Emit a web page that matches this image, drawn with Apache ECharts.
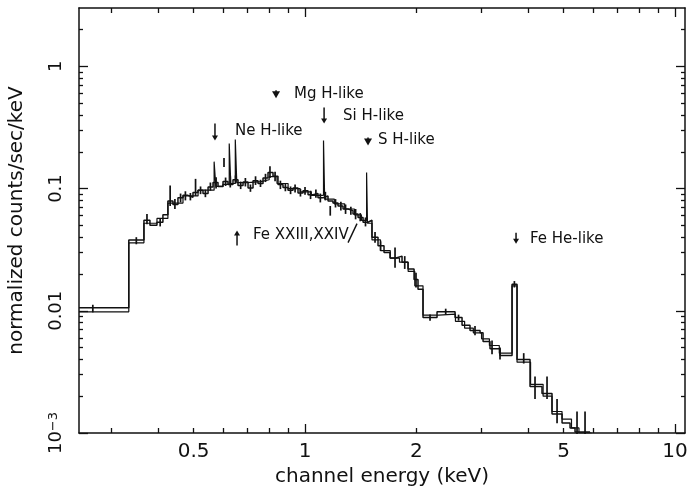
<!DOCTYPE html>
<html><head><meta charset="utf-8">
<script src="https://cdn.jsdelivr.net/npm/echarts@6/dist/echarts.min.js"></script>
<style>html,body{margin:0;padding:0;background:#fff}#c{width:687px;height:490px}</style>
</head><body><div id="c"></div>
<script>
// ---- data ----
const dataEdges = [0.245, 0.334, 0.367, 0.381, 0.398, 0.413, 0.426, 0.4396, 0.4535, 0.468,
  0.4828, 0.498, 0.5138, 0.530, 0.547, 0.5641, 0.5819, 0.6003, 0.6192, 0.6388,
  0.659, 0.680, 0.7015, 0.7236, 0.7464, 0.770, 0.7943, 0.8194, 0.8452, 0.872,
  0.8995, 0.928, 0.9573, 0.9876, 1.019, 1.051, 1.084, 1.118, 1.154, 1.190,
  1.228, 1.267, 1.307, 1.348, 1.391, 1.435, 1.480, 1.517, 1.575, 1.635,
  1.697, 1.762, 1.829, 1.898, 1.971, 2.020, 2.084, 2.274, 2.544, 2.657,
  2.792, 2.972, 3.028, 3.162, 3.365, 3.627, 3.741, 4.056, 4.370, 4.651,
  4.951, 5.203, 5.367, 5.893];
const dataValues = [0.0106, 0.038, 0.055, 0.050, 0.053, 0.061, 0.079, 0.074, 0.084, 0.088,
  0.085, 0.093, 0.097, 0.091, 0.103, 0.112, 0.104, 0.114, 0.108, 0.118,
  0.106, 0.113, 0.101, 0.116, 0.110, 0.122, 0.135, 0.126, 0.108, 0.102,
  0.097, 0.101, 0.092, 0.096, 0.089, 0.091, 0.084, 0.087, 0.079, 0.076,
  0.072, 0.068, 0.066, 0.062, 0.058, 0.053, 0.055, 0.040, 0.034, 0.030,
  0.027, 0.028, 0.025, 0.022, 0.018, 0.015, 0.0088, 0.0098, 0.0088, 0.0076,
  0.0069, 0.0066, 0.0056, 0.0049, 0.0043, 0.0165, 0.0040, 0.0024, 0.0021, 0.00143,
  0.00121, 0.0011, 0.00102];
const modelEdges = [0.245, 0.334, 0.367, 0.398, 0.426, 0.468, 0.514, 0.568, 0.574, 0.600,
  0.624, 0.630, 0.648, 0.654, 0.70, 0.76, 0.80, 0.84, 0.90, 0.97,
  1.04, 1.122, 1.130, 1.20, 1.28, 1.36, 1.42, 1.467, 1.475, 1.517,
  1.60, 1.70, 1.80, 1.90, 1.98, 2.084, 2.30, 2.55, 2.70, 2.85,
  3.00, 3.15, 3.35, 3.627, 3.741, 4.07, 4.40, 4.65, 4.95, 5.25,
  5.50, 5.95];
const modelValues = [0.0098, 0.036, 0.052, 0.057, 0.076, 0.087, 0.097, 0.166, 0.104, 0.108,
  0.234, 0.110, 0.252, 0.112, 0.114, 0.118, 0.125, 0.110, 0.100, 0.094,
  0.088, 0.247, 0.082, 0.075, 0.068, 0.061, 0.055, 0.135, 0.052, 0.038,
  0.031, 0.027, 0.025, 0.021, 0.016, 0.0092, 0.0094, 0.0082, 0.0072, 0.0066,
  0.0059, 0.0052, 0.0045, 0.0160, 0.0038, 0.0025, 0.0020, 0.0015, 0.0013, 0.0011,
  0.0010];
const errE  = [0.267, 0.350, 0.374, 0.406, 0.432, 0.461, 0.490, 0.506, 0.538, 0.555,
  0.604, 0.610, 0.649, 0.690, 0.735, 0.782, 0.804, 0.858, 0.914, 0.972,
  1.035, 1.10, 1.17, 1.209, 1.287, 1.370, 1.457, 1.546, 1.60, 1.751,
  1.86, 1.995, 2.177, 2.40, 2.60, 2.88, 3.202, 3.365, 3.68, 3.90,
  4.184, 4.509, 4.799, 5.434, 5.712,
  0.445, 0.475, 0.522, 0.575, 0.628, 0.670, 0.712, 0.758, 0.830, 0.885,
  0.940, 1.000, 1.070, 1.135, 1.250, 1.330, 1.410];
const errLo = [0.0097, 0.035, 0.051, 0.049, 0.072, 0.077, 0.080, 0.087, 0.085, 0.096,
  0.150, 0.105, 0.110, 0.104, 0.107, 0.113, 0.122, 0.099, 0.090, 0.086,
  0.082, 0.077, 0.060, 0.070, 0.062, 0.056, 0.049, 0.036, 0.031, 0.0225,
  0.022, 0.0155, 0.0083, 0.0093, 0.0083, 0.0063, 0.0044, 0.0040, 0.0155, 0.0037,
  0.0019, 0.0019, 0.0012, 0.00098, 0.00098,
  0.068, 0.080, 0.090, 0.100, 0.102, 0.099, 0.094, 0.103, 0.115, 0.095,
  0.093, 0.089, 0.084, 0.080, 0.066, 0.061, 0.054];
const errHi = [0.0112, 0.040, 0.062, 0.057, 0.106, 0.091, 0.092, 0.120, 0.098, 0.112,
  0.178, 0.123, 0.128, 0.122, 0.126, 0.132, 0.152, 0.116, 0.104, 0.099,
  0.096, 0.091, 0.072, 0.082, 0.074, 0.068, 0.058, 0.044, 0.037, 0.033,
  0.028, 0.0205, 0.0093, 0.0104, 0.0093, 0.0075, 0.0057, 0.0050, 0.0175, 0.0045,
  0.0029, 0.0029, 0.0019, 0.0015, 0.0015,
  0.082, 0.095, 0.104, 0.124, 0.126, 0.114, 0.108, 0.118, 0.137, 0.110,
  0.108, 0.103, 0.098, 0.094, 0.078, 0.071, 0.063];
const xMajorTicks = [1, 10];
const xMinorTicks = [0.3, 0.4, 0.5, 0.6, 0.7, 0.8, 0.9, 2, 3, 4, 5, 6, 7, 8, 9];
const xTickLabels = [0.5, 1, 2, 5, 10];
const yMajorTicks = [0.001, 0.01, 0.1, 1];
const yMinorTicks = [0.002, 0.003, 0.004, 0.005, 0.006, 0.007, 0.008, 0.009,
  0.02, 0.03, 0.04, 0.05, 0.06, 0.07, 0.08, 0.09,
  0.2, 0.3, 0.4, 0.5, 0.6, 0.7, 0.8, 0.9, 2];
const yTickLabels = [0.001, 0.01, 0.1, 1];
const annoText = ['Mg H-like', 'Ne H-like', 'Si H-like', 'S H-like', 'Fe XXIII,XXIV', 'Fe He-like'];
const annoE = [0.835, 0.571, 1.126, 1.480, 0.655, 3.718];
const annoV = [0.547, 0.247, 0.341, 0.225, 0.0453, 0.0354];
const annoDir = ['down', 'down', 'down', 'down', 'up', 'down'];
const leaderE = [1.307, 1.382];
const leaderV = [0.0361, 0.0516];
const xMin = 0.245, xMax = 10.64, yMin = 0.001, yMax = 3.0;

// ---- styling ----
const INK = '#111';
const annoLen = [8, 17, 16, 8, 15, 11];
const annoHeadW = [8, 6, 6, 8, 6, 6];
const annoHeadH = [7, 5, 5, 7, 5, 5];
const annoDx = [18, 20, 19, 10, 16, 14];
const annoDy = [-4, -9, -7, -5, 5, -5];
const annoFont = '15px "DejaVu Sans"';

const L = Math.log10;
function stepData(edges, vals) {
  return edges.map((e, i) => [e, vals[Math.min(i, vals.length - 1)]]);
}
function tickAxisX(pos, ticks, len, labels) {
  return {
    type: 'value', position: pos, min: L(xMin), max: L(xMax),
    axisLine: { show: false, onZero: false },
    splitLine: { show: false },
    axisTick: { show: true, inside: true, length: len, customValues: ticks.map(L),
      lineStyle: { color: INK, width: 1.3 } },
    axisLabel: labels ? {
      show: true, customValues: labels.map(L), margin: 9,
      fontFamily: 'DejaVu Sans', fontSize: 20, color: INK,
      formatter: v => String(parseFloat(Math.pow(10, v).toPrecision(3)))
    } : { show: false }
  };
}
function tickAxisY(pos, ticks, len, labels) {
  return {
    type: 'value', position: pos, min: L(yMin), max: L(yMax),
    axisLine: { show: false, onZero: false },
    splitLine: { show: false },
    axisTick: { show: true, inside: true, length: len, customValues: ticks.map(L),
      lineStyle: { color: INK, width: 1.3 } },
    axisLabel: labels ? {
      show: true, customValues: labels.map(L), margin: 14, rotate: 90,
      fontFamily: 'DejaVu Sans', fontSize: 18, color: INK,
      formatter: v => {
        const n = Math.round(v);
        if (n === -3) return '{b|10}{s|−3}';
        return '{b|' + String(parseFloat(Math.pow(10, n).toPrecision(3))) + '}';
      },
      rich: {
        b: { fontFamily: 'DejaVu Sans', fontSize: 18, color: INK },
        s: { fontFamily: 'DejaVu Sans', fontSize: 13, color: INK, verticalAlign: 'top' }
      }
    } : { show: false }
  };
}

const chart = echarts.init(document.getElementById('c'), null, { renderer: 'canvas' });
const option = {
  animation: false,
  backgroundColor: '#fff',
  grid: { left: 79, right: 2, top: 8, bottom: 57, containLabel: false, outerBoundsMode: 'none' },
  xAxis: [
    { type: 'log', logBase: 10, min: xMin, max: xMax, position: 'bottom',
      axisLine: { show: true, onZero: false, lineStyle: { color: INK, width: 1.5 } },
      axisTick: { show: false }, axisLabel: { show: false }, splitLine: { show: false },
      name: 'channel energy (keV)', nameLocation: 'middle', nameGap: 34,
      nameTextStyle: { fontFamily: 'DejaVu Sans', fontSize: 20, color: INK } },
    { type: 'value', position: 'top', min: L(xMin), max: L(xMax),
      axisLine: { show: true, onZero: false, lineStyle: { color: INK, width: 1.5 } },
      axisTick: { show: false }, axisLabel: { show: false }, splitLine: { show: false } },
    tickAxisX('bottom', xMinorTicks, 5, null),
    tickAxisX('bottom', xMajorTicks, 9, xTickLabels),
    tickAxisX('top', xMinorTicks, 5, null),
    tickAxisX('top', xMajorTicks, 9, null)
  ],
  yAxis: [
    { type: 'log', logBase: 10, min: yMin, max: yMax, position: 'left',
      axisLine: { show: true, onZero: false, lineStyle: { color: INK, width: 1.5 } },
      axisTick: { show: false }, axisLabel: { show: false }, splitLine: { show: false },
      name: 'normalized counts/sec/keV', nameLocation: 'middle', nameGap: 52,
      nameTextStyle: { fontFamily: 'DejaVu Sans', fontSize: 20, color: INK } },
    { type: 'value', position: 'right', min: L(yMin), max: L(yMax),
      axisLine: { show: true, onZero: false, lineStyle: { color: INK, width: 1.5 } },
      axisTick: { show: false }, axisLabel: { show: false }, splitLine: { show: false } },
    tickAxisY('left', yMinorTicks, 4, null),
    tickAxisY('left', yMajorTicks, 9, yTickLabels),
    tickAxisY('right', yMinorTicks, 4, null),
    tickAxisY('right', yMajorTicks, 9, null)
  ],
  series: [
    { type: 'line', name: 'model', step: 'end', symbol: 'none', xAxisIndex: 0, yAxisIndex: 0,
      data: stepData(modelEdges, modelValues),
      lineStyle: { color: INK, width: 1.2 }, z: 3 },
    { type: 'line', name: 'data', step: 'end', symbol: 'none', xAxisIndex: 0, yAxisIndex: 0,
      data: stepData(dataEdges, dataValues),
      lineStyle: { color: INK, width: 1.5 }, z: 4 },
    { type: 'custom', name: 'errors', xAxisIndex: 0, yAxisIndex: 0,
      data: errE.map((e, i) => [e, errLo[i], errHi[i]]),
      encode: { x: 0, y: [1, 2] },
      renderItem: (params, api) => {
        const a = api.coord([api.value(0), api.value(1)]);
        const b = api.coord([api.value(0), api.value(2)]);
        return { type: 'line', shape: { x1: a[0], y1: a[1], x2: b[0], y2: b[1] },
          style: { stroke: INK, lineWidth: 1.7 } };
      }, z: 5 },
    { type: 'custom', name: 'annotations', xAxisIndex: 0, yAxisIndex: 0,
      data: annoE.map((e, i) => [e, annoV[i]]),
      encode: { x: 0, y: 1 },
      renderItem: (params, api) => {
        const i = params.dataIndex;
        const p = api.coord([api.value(0), api.value(1)]);
        const s = annoDir[i] === 'down' ? -1 : 1; // stem direction from tip
        const hw = annoHeadW[i] / 2, hh = annoHeadH[i];
        const children = [
          { type: 'line', shape: { x1: p[0], y1: p[1] + s * annoLen[i], x2: p[0], y2: p[1] + s * (hh - 1) },
            style: { stroke: INK, lineWidth: 1.5 } },
          { type: 'polygon', shape: { points: [[p[0] - hw, p[1] + s * hh], [p[0] + hw, p[1] + s * hh], [p[0], p[1]]] },
            style: { fill: INK } },
          { type: 'text', x: p[0] + annoDx[i], y: p[1] + annoDy[i],
            style: { text: annoText[i], fill: INK, font: annoFont, align: 'left', verticalAlign: 'middle' } }
        ];
        if (i === 4) {
          const a = api.coord([leaderE[0], leaderV[0]]);
          const b = api.coord([leaderE[1], leaderV[1]]);
          children.push({ type: 'line', shape: { x1: a[0], y1: a[1], x2: b[0], y2: b[1] },
            style: { stroke: INK, lineWidth: 1.4 } });
        }
        return { type: 'group', children };
      }, z: 6 }
  ]
};
chart.setOption(option);
</script>
</body></html>
